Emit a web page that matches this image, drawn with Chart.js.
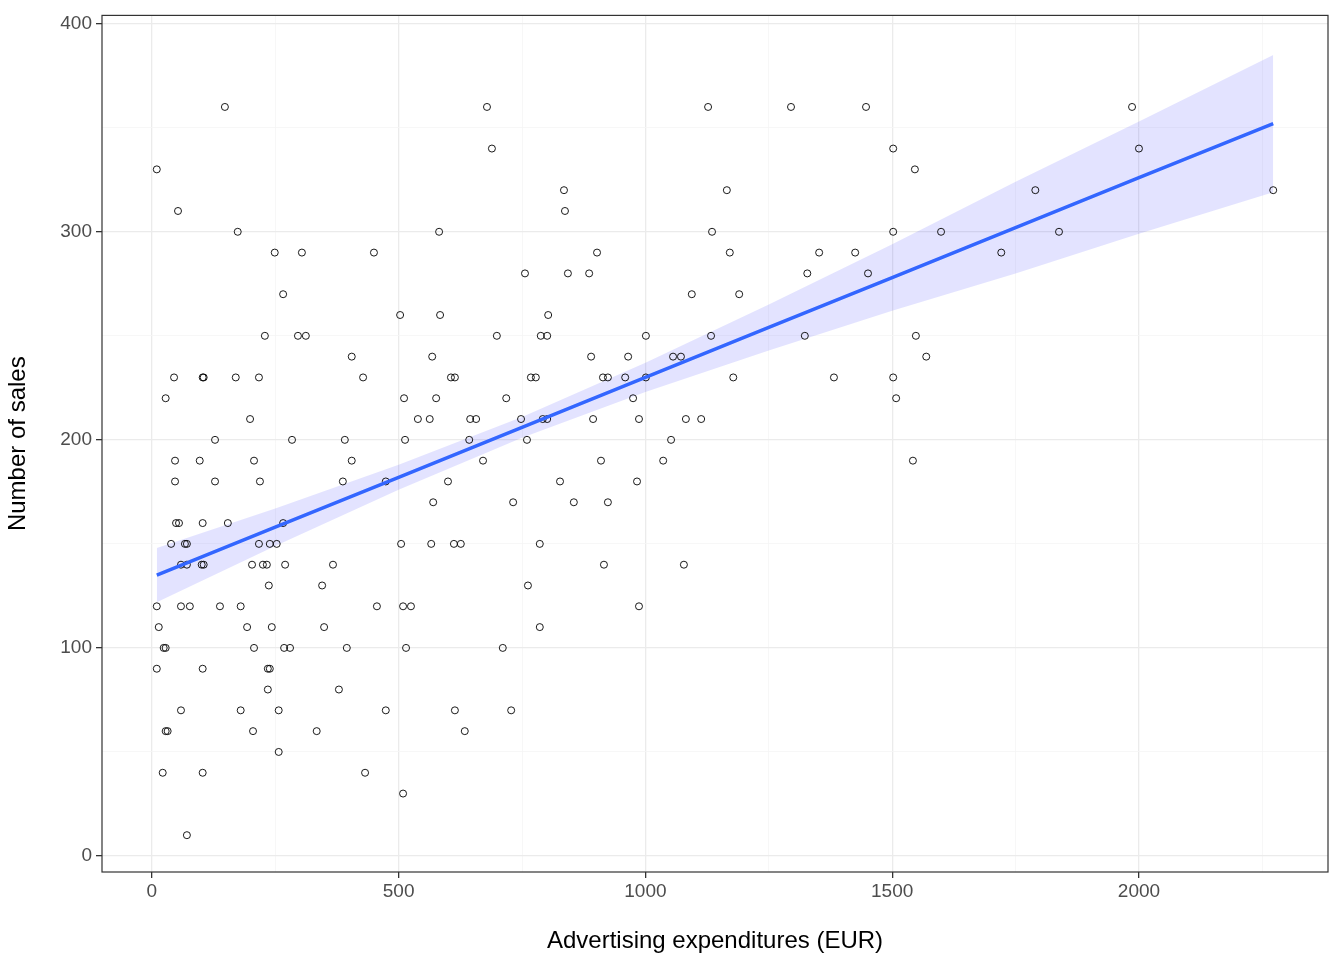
<!DOCTYPE html>
<html><head><meta charset="utf-8">
<script src="https://cdn.jsdelivr.net/npm/chart.js@4"></script>
<style>html,body{margin:0;padding:0;background:#fff}#c{display:block}</style>
</head><body>
<canvas id="c" width="1344" height="960" style="width:1344px;height:960px"></canvas>
<script>
const adX=[10,148,53,28,45,103,105,174,47,47,97,128,128,39,49,55,67,71,59,71,101,105,103,154,10,59,77,138,14,10,24,28,103,28,32,59,22,103,71,
170,199,207,219,217,229,217,239,253,225,233,203,237,243,180,193,207,235,239,235,257,205,180,257,249,266,266,270,268,280,284,296,312,304,334,345,349,367,379,387,391,395,405,405,428,432,450,456,474,474,
503,505,509,525,511,513,515,509,539,563,568,570,566,576,582,584,600,606,614,612,626,614,634,643,645,657,671,679,689,699,711,718,728,732,748,756,760,762,768,778,786,786,788,792,801,801,803,
827,835,837,843,855,886,890,894,902,910,914,924,916,924,959,965,975,983,987,987,1001,1001,1036,1052,1056,1072,1078,1082,1094,1113,1127,1133,1135,1165,1171,1178,1190,
1295,1323,1328,1352,1382,1425,1447,1451,1502,1502,1502,1508,1542,1546,1548,1569,1599,1721,1790,1838,1986,2000,2272];
const sales=[330,360,310,220,230,230,230,300,190,180,190,200,180,150,160,160,150,150,140,140,140,140,160,160,120,120,120,120,110,90,100,100,90,60,60,70,40,40,10,
230,210,190,180,230,250,150,150,150,140,140,140,130,110,120,110,100,90,90,80,70,60,70,50,290,270,160,140,100,100,200,250,250,290,60,130,110,140,80,180,200,100,240,190,230,40,290,120,180,70,
260,150,120,120,220,200,100,30,210,210,240,170,150,220,300,260,180,230,230,150,150,70,60,200,210,210,190,360,340,250,100,220,70,170,210,280,200,130,230,230,110,150,250,210,210,250,260,
180,320,310,280,170,280,240,210,290,190,230,230,140,170,230,240,220,180,120,210,250,230,190,200,240,240,140,210,270,210,360,250,300,320,290,230,270,
360,250,280,290,230,290,360,280,340,300,230,220,190,330,250,240,300,290,320,300,360,340,320];
const fitX=[10,250,500,750,1000,1250,1500,1750,2000,2272];
const fitY=[135,158,182,206,230,254,278,302,326,352];
const fitHalf=[13,9,6,5,7,11,16,22,27,33];
const xTicks=[0,250,500,750,1000,1250,1500,1750,2000,2250];
const yTicks=[0,50,100,150,200,250,300,350,400];

const pts=adX.map((x,i)=>({x,y:sales[i]}));
const lo=fitX.map((x,i)=>({x,y:fitY[i]-fitHalf[i]}));
const hi=fitX.map((x,i)=>({x,y:fitY[i]+fitHalf[i]}));
const ln=fitX.map((x,i)=>({x,y:fitY[i]}));
const border={id:'border',afterDatasetsDraw(c){const a=c.chartArea,g=c.ctx;g.save();g.strokeStyle='#333';g.lineWidth=1.2;g.strokeRect(a.left,a.top,a.right-a.left,a.bottom-a.top);g.restore();}};
const gridOpt=(major)=>({color:ctx=>ctx.tick&&major(ctx.tick.value)?'#EBEBEB':'#F5F5F5',lineWidth:ctx=>ctx.tick&&major(ctx.tick.value)?1.3:0.8,
 tickColor:ctx=>ctx.tick&&major(ctx.tick.value)?'#333':'rgba(0,0,0,0)',tickLength:6,drawTicks:true});
new Chart(document.getElementById('c'),{
 type:'scatter',
 data:{datasets:[
  {type:'line',data:lo,borderWidth:0,pointRadius:0,fill:false,order:3},
  {type:'line',data:hi,borderWidth:0,pointRadius:0,fill:'-1',backgroundColor:'rgba(0,0,255,0.11)',order:3},
  {data:pts,pointRadius:3.5,pointBorderWidth:0.9,pointBorderColor:'#000',pointBackgroundColor:'rgba(0,0,0,0)',order:2},
  {type:'line',data:ln,borderColor:'#3366FF',borderWidth:3.5,pointRadius:0,fill:false,order:1}
 ]},
 plugins:[border],
 options:{responsive:false,animation:false,devicePixelRatio:1,
  layout:{padding:{top:15,right:16,left:0,bottom:0}},
  plugins:{legend:{display:false},tooltip:{enabled:false}},
  scales:{
   x:{type:'linear',min:-101,max:2383,
    afterBuildTicks:s=>{s.ticks=xTicks.map(v=>({value:v}));},
    afterFit:s=>{s.height=88;},
    grid:gridOpt(v=>v%500===0),border:{display:false},
    ticks:{color:'#4D4D4D',font:{family:'Liberation Sans',size:19},padding:2,autoSkip:false,maxRotation:0,
     callback:v=>v%500===0?String(v):''},
    title:{display:true,text:'Advertising expenditures (EUR)',color:'#000',font:{family:'Liberation Sans',size:24},padding:{top:2}}},
   y:{type:'linear',min:-7.7,max:404,
    afterBuildTicks:s=>{s.ticks=yTicks.map(v=>({value:v}));},
    afterFit:s=>{s.width=102;},
    grid:gridOpt(v=>v%100===0),border:{display:false},
    ticks:{color:'#4D4D4D',font:{family:'Liberation Sans',size:19},padding:4,autoSkip:false,
     callback:v=>v%100===0?String(v):''},
    title:{display:true,text:'Number of sales',color:'#000',font:{family:'Liberation Sans',size:24},padding:{bottom:4}}}
  }}
});
</script></body></html>
